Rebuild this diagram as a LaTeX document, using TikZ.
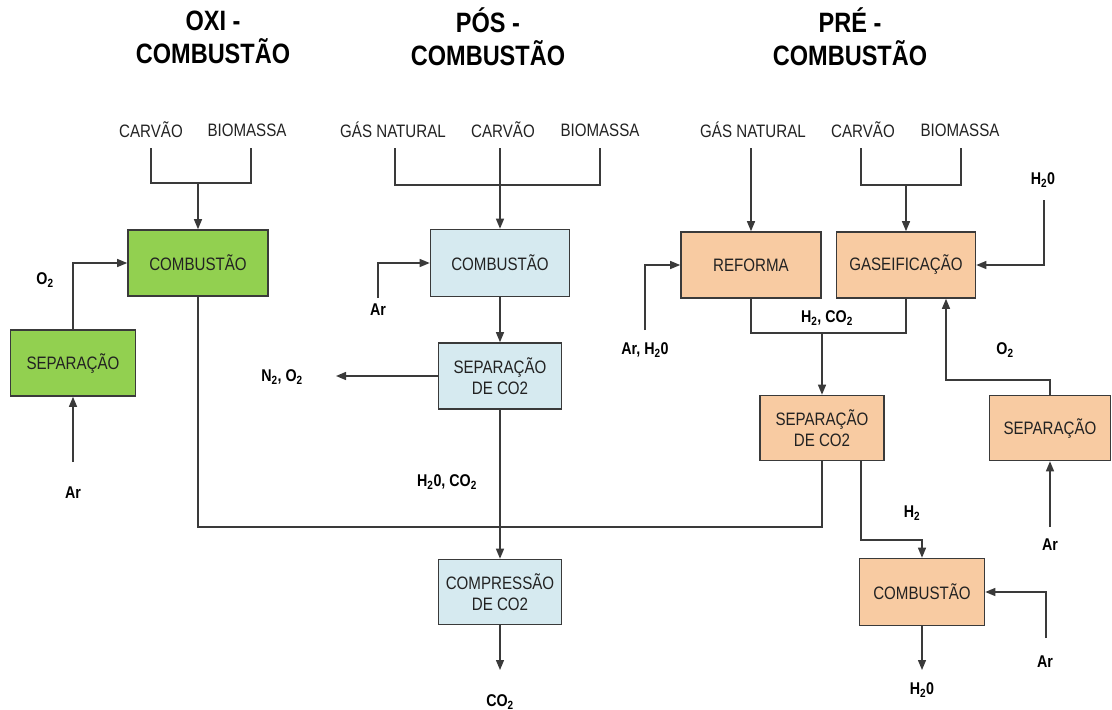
\documentclass[tikz,border=0pt]{standalone}
\usepackage{fontspec}
\setmainfont{Liberation Sans}[FakeStretch=0.84]
\usetikzlibrary{arrows.meta}

\definecolor{oxigreen}{HTML}{92D050}
\definecolor{posblue}{HTML}{D6EAF0}
\definecolor{preorange}{HTML}{F8CBA2}
\definecolor{linegray}{HTML}{3A3A3A}
\definecolor{textgray}{HTML}{222222}

\tikzset{
  box/.style={draw=linegray, line width=1.6pt, align=center, inner sep=0pt,
    text=textgray, font=\fontsize{18}{21}\selectfont},
  oxibox/.style={box, fill=oxigreen},
  posbox/.style={box, fill=posblue},
  prebox/.style={box, fill=preorange},
  title/.style={align=center, text=black, font=\bfseries\fontsize{28}{33}\selectfont},
  src/.style={text=textgray, font=\fontsize{18}{21}\selectfont},
  lbl/.style={text=black, font=\bfseries\fontsize{17}{20}\selectfont},
  flow/.style={draw=linegray, line width=1.3pt},
}

\begin{document}
\begin{tikzpicture}[x=1pt, y=-1pt, >={Triangle[length=10pt,width=8pt]}]
  \useasboundingbox (0,0) rectangle (1112,710);

  % titulos
  \node (toxi) [title] at (213,37) {OXI -\\COMBUSTÃO};
  \node (tpos) [title] at (488,37) {PÓS -\\COMBUSTÃO};
  \node (tpre) [title] at (850,37) {PRÉ -\\COMBUSTÃO};

  % combustiveis
  \node (carvao1) [src] at (151,130) {CARVÃO};
  \node (bio1) [src] at (247,130) {BIOMASSA};
  \node (gas2) [src] at (393,130) {GÁS NATURAL};
  \node (carvao2) [src] at (503,130) {CARVÃO};
  \node (bio2) [src] at (600,130) {BIOMASSA};
  \node (gas3) [src] at (753,130) {GÁS NATURAL};
  \node (carvao3) [src] at (863,130) {CARVÃO};
  \node (bio3) [src] at (960,130) {BIOMASSA};

  % processos
  \node (comb1) [oxibox, minimum width=140pt, minimum height=66pt] at (198,263) {COMBUSTÃO};
  \node (sep1) [oxibox, minimum width=125pt, minimum height=66pt] at (73,363) {SEPARAÇÃO};
  \node (comb2) [posbox, minimum width=139pt, minimum height=67pt] at (500,263) {COMBUSTÃO};
  \node (sep2) [posbox, minimum width=123pt, minimum height=66pt] at (500,376) {SEPARAÇÃO\\DE CO2};
  \node (compr) [posbox, minimum width=123pt, minimum height=65pt] at (500,592) {COMPRESSÃO\\DE CO2};
  \node (reforma) [prebox, minimum width=140pt, minimum height=66pt] at (751,265) {REFORMA};
  \node (gaseif) [prebox, minimum width=139pt, minimum height=66pt] at (906,265) {GASEIFICAÇÃO};
  \node (sep3) [prebox, minimum width=124pt, minimum height=65pt] at (822,428) {SEPARAÇÃO\\DE CO2};
  \node (sep4) [prebox, minimum width=121pt, minimum height=65pt] at (1050,428) {SEPARAÇÃO};
  \node (comb3) [prebox, minimum width=125pt, minimum height=67pt] at (922,592) {COMBUSTÃO};

  % rotulos
  \node (lo2a) [lbl] at (45,280) {O\textsubscript{2}};
  \node (lar1) [lbl] at (73,493) {Ar};
  \node (lar2) [lbl] at (378,310) {Ar};
  \node (ln2) [lbl] at (282,377) {N\textsubscript{2}, O\textsubscript{2}};
  \node (lh2oco2) [lbl] at (447,482) {H\textsubscript{2}0, CO\textsubscript{2}};
  \node (lco2) [lbl] at (500,702) {CO\textsubscript{2}};
  \node (lh2oa) [lbl] at (1043,180) {H\textsubscript{2}0};
  \node (larh2o) [lbl] at (645,350) {Ar, H\textsubscript{2}0};
  \node (lh2co2) [lbl] at (827,318) {H\textsubscript{2}, CO\textsubscript{2}};
  \node (lo2b) [lbl] at (1005,350) {O\textsubscript{2}};
  \node (lar4) [lbl] at (1050,545) {Ar};
  \node (lh2) [lbl] at (912,513) {H\textsubscript{2}};
  \node (lar5) [lbl] at (1045,662) {Ar};
  \node (lh2ob) [lbl] at (922,690) {H\textsubscript{2}0};

  % pontas livres
  \coordinate (c1) at (151,148);
  \coordinate (b1) at (251,148);
  \coordinate (j1) at (198,183);
  \coordinate (ar1) at (73,462);
  \coordinate (bus) at (0,527);
  \coordinate (g2) at (395,148);
  \coordinate (c2) at (500,148);
  \coordinate (b2) at (600,148);
  \coordinate (ar2) at (378,298);
  \coordinate (nout) at (336,376);
  \coordinate (co2out) at (500,670);
  \coordinate (g3) at (751,148);
  \coordinate (c3) at (861,148);
  \coordinate (b3) at (961,148);
  \coordinate (j3) at (906,185);
  \coordinate (h2o) at (1044,200);
  \coordinate (arh) at (645,330);
  \coordinate (syn) at (822,333);
  \coordinate (o2j) at (946,380);
  \coordinate (ar4) at (1050,527);
  \coordinate (h2j) at (0,540);
  \coordinate (ar5) at (1046,638);
  \coordinate (h2oout) at (922,670);

  % oxi
  \draw[flow] (c1) -- (c1 |- j1) -- (b1 |- j1) -- (b1);
  \draw[flow,->] (j1) -- (comb1);
  \draw[flow,->] (sep1.north) |- (comb1.west);
  \draw[flow,->] (ar1) -- (sep1);
  \draw[flow] (comb1.south) |- (bus -| sep3.south) -- (sep3.south);

  % pos
  \draw[flow] (g2) -- (g2 |- 0,185) -- (b2 |- 0,185) -- (b2);
  \draw[flow,->] (c2) -- (comb2);
  \draw[flow,->] (ar2) |- (comb2.west);
  \draw[flow,->] (comb2) -- (sep2);
  \draw[flow,->] (sep2) -- (nout);
  \draw[flow,->] (sep2) -- (compr);
  \draw[flow,->] (compr) -- (co2out);

  % pre
  \draw[flow,->] (g3) -- (reforma);
  \draw[flow] (c3) -- (c3 |- j3) -- (b3 |- j3) -- (b3);
  \draw[flow,->] (j3) -- (gaseif);
  \draw[flow,->] (h2o) |- (gaseif.east);
  \draw[flow,->] (arh) |- (reforma.west);
  \draw[flow] (reforma.south) |- (gaseif.south |- syn) -- (gaseif.south);
  \draw[flow,->] (syn) -- (sep3);
  \draw[flow,->] (sep4.north) |- (o2j) -- (o2j |- gaseif.south);
  \draw[flow,->] (ar4) -- (sep4);
  \draw[flow,->] ([xshift=39pt]sep3.south) |- (comb3.north |- h2j) -- (comb3.north);
  \draw[flow,->] (ar5) |- (comb3.east);
  \draw[flow,->] (comb3) -- (h2oout);

\end{tikzpicture}
\end{document}
